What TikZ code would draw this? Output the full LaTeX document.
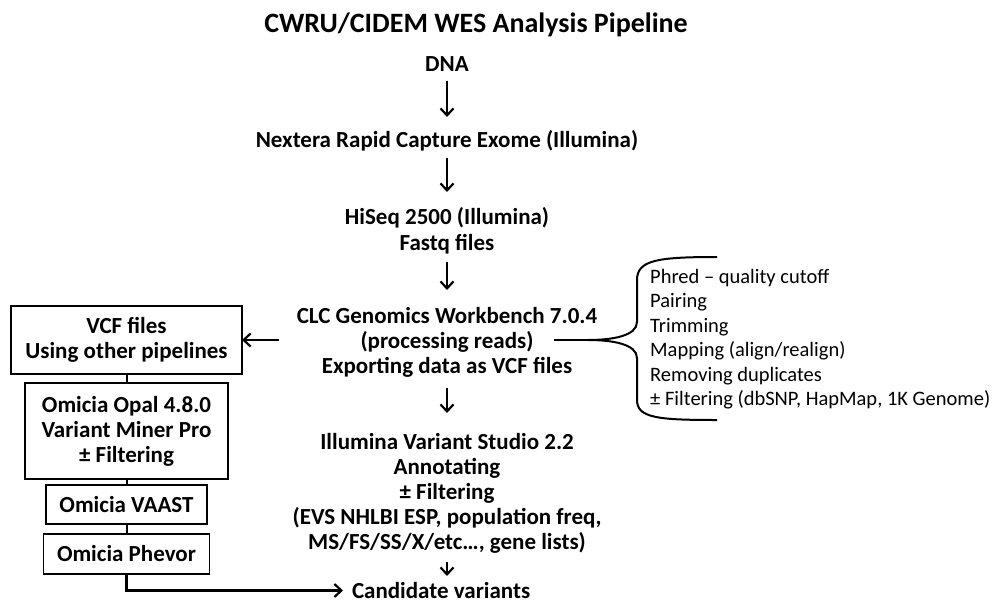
\documentclass[tikz,border=0pt]{standalone}
\usepackage{fontspec}
\setmainfont{Carlito}
\usetikzlibrary{arrows.meta}
\begin{document}
\begin{tikzpicture}[x=1pt,y=-1pt,
  txt/.style={font=\fontsize{23}{25}\selectfont\bfseries, inner sep=0pt, outer sep=0pt, anchor=base, text height=17pt, text depth=5pt},
  ttl/.style={font=\fontsize{28}{32}\selectfont\bfseries, inner sep=0pt, anchor=base},
  box/.style={draw, line width=1.4pt, inner sep=0pt, outer sep=0pt, align=center, font=\fontsize{23}{25}\selectfont\bfseries},
  conn/.style={line width=2pt},
  arr/.style={line width=2.2pt, -{Straight Barb[length=7pt,width=13pt]}},
  brace/.style={line width=2pt}]
\useasboundingbox (0,0) rectangle (997,603);
% title
\node[ttl] (title) at (476,32) {CWRU/CIDEM WES Analysis Pipeline};
% central column
\node[txt] (dna) at (447,71.5) {DNA};
\node[txt] (nextera) at (447,147.5) {Nextera Rapid Capture Exome (Illumina)};
\node[txt] (hiseq) at (447,224.5) {HiSeq 2500 (Illumina)};
\node[txt] (fastq) at (447,250) {Fastq files};
\node[txt] (clc) at (447,323) {CLC Genomics Workbench 7.0.4};
\node[txt] (proc) at (447,348) {(processing reads)};
\node[txt] (export) at (447,373) {Exporting data as VCF files};
\node[txt] (ivs) at (447,449.5) {Illumina Variant Studio 2.2};
\node[txt] (annot) at (447,474.5) {Annotating};
\node[txt] (filt) at (447,499.5) {± Filtering};
\node[txt] (evs) at (447,524.5) {(EVS NHLBI ESP, population freq,};
\node[txt] (ms) at (447,549.5) {MS/FS/SS/X/etc…, gene lists)};
\node[txt, anchor=base west, text depth=2pt] (cand) at (352,598) {Candidate variants};
% arrows in the column
\draw[arr, shorten <=4.5pt, shorten >=13.5pt] (dna) -- (nextera);
\draw[arr, shorten <=5.5pt, shorten >=15.5pt] (nextera) -- (hiseq);
\draw[arr, shorten <=7pt, shorten >=16pt] (fastq) -- (clc);
\draw[arr, shorten <=10pt, shorten >=19.5pt] (export) -- (ivs);
\draw[arr, shorten <=7.5pt, shorten >=5pt] (ms) -- (cand.north -| ms.south);
% left boxes
\node[box, minimum width=231pt, minimum height=68pt] (vcf) at (126.5,340) {VCF files\\Using other pipelines};
\node[box, minimum width=203pt, minimum height=96pt] (opal) at (126.5,431) {Omicia Opal 4.8.0\\Variant Miner Pro\\± Filtering};
\node[box, minimum width=161pt, minimum height=39pt] (vaast) at (126.5,504.5) {Omicia VAAST};
\node[box, minimum width=166pt, minimum height=40pt] (phevor) at (126.5,554) {Omicia Phevor};
\draw[conn] (vcf) -- (opal);
\draw[conn] (opal) -- (vaast);
\draw[conn] (vaast) -- (phevor);
\draw[arr, shorten >=9pt] (phevor.south) |- (cand.west);
\draw[arr, shorten <=17.5pt] (clc.west |- vcf.east) -- (vcf.east);
% brace
\coordinate (btip) at (588,340);
\draw[brace, shorten <=21pt] (proc.east |- btip) -- (btip);
\draw[brace] (717,257) .. controls (658,257) and (637,260) .. (637,280) -- (637,322)
  .. controls (637,336) and (612,340) .. (btip)
  .. controls (612,340) and (637,344) .. (637,358) -- (637,400)
  .. controls (637,418) and (658,420) .. (717,420);
\node[font=\fontsize{20.5}{24.5}\selectfont, align=left, anchor=west, inner sep=0pt] (steps) at (650,339)
  {Phred – quality cutoff\\Pairing\\Trimming\\Mapping (align/realign)\\Removing duplicates\\± Filtering (dbSNP, HapMap, 1K Genome)};
\end{tikzpicture}
\end{document}
